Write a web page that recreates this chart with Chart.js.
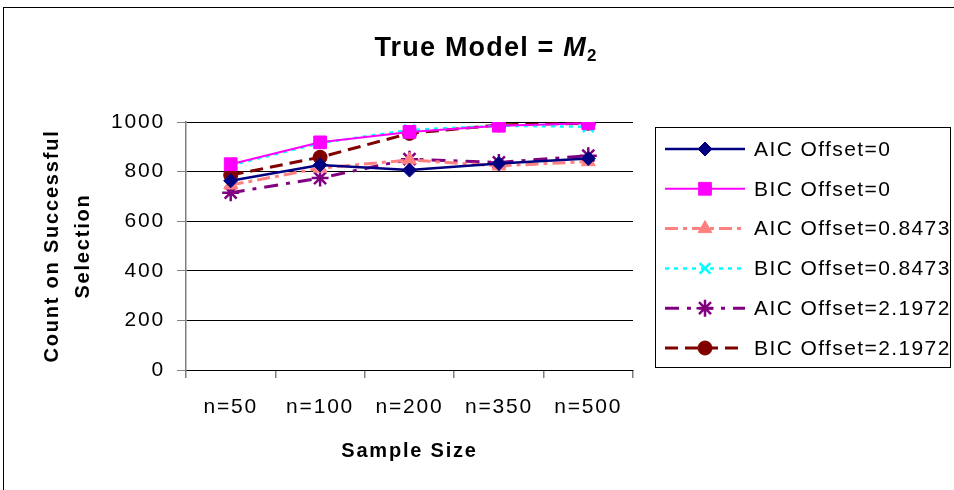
<!DOCTYPE html>
<html>
<head>
<meta charset="utf-8">
<script src="https://cdn.jsdelivr.net/npm/chart.js@4.4.1/dist/chart.umd.min.js"></script>
<style>
  html, body { margin: 0; padding: 0; background: #fff; }
  #wrap { width: 954px; height: 490px; position: relative; }
</style>
</head>
<body>
<div id="wrap"><canvas id="c" width="954" height="490"></canvas></div>
<script>
const categories = ['n=50', 'n=100', 'n=200', 'n=350', 'n=500'];
const seriesNames = ['AIC Offset=0', 'BIC Offset=0', 'AIC Offset=0.8473', 'BIC Offset=0.8473', 'AIC Offset=2.1972', 'BIC Offset=2.1972'];
const aic0 = [763, 827, 806, 833, 853];
const bic0 = [830, 918, 960, 985, 995];
const aic08473 = [746, 814, 847, 823, 840];
const bic08473 = [825, 915, 968, 985, 981];
const aic21972 = [715, 774, 850, 837, 864];
const bic21972 = [786, 858, 954, 988, 995];
const yTicks = [0, 200, 400, 600, 800, 1000];
const titleMain = 'True Model = ';
const titleItalic = 'M';
const titleSub = '2';
const yTitle = ['Count on Successful', 'Selection'];
const xTitle = 'Sample Size';

const FONT = '"Liberation Sans", Arial, sans-serif';

const styles = [
  { color: '#000080', dash: [], width: 2.5, point: 'rectRot', radius: 7 },
  { color: '#FF00FF', dash: [], width: 2, point: 'rect', radius: 9 },
  { color: '#FF8080', dash: [13, 5, 4, 5], width: 3, point: 'triangle', radius: 8 },
  { color: '#00FFFF', dash: [4, 5], width: 2.5, point: 'crossRot', radius: 7.5 },
  { color: '#800080', dash: [14, 8, 4, 8], width: 3, point: 'star', radius: 8.5 },
  { color: '#800000', dash: [13, 7], width: 3, point: 'circle', radius: 7 }
];
const values = [aic0, bic0, aic08473, bic08473, aic21972, bic21972];

const datasets = values.map((v, i) => {
  const s = styles[i];
  const lineish = (s.point === 'crossRot' || s.point === 'star');
  return {
    label: seriesNames[i],
    data: v,
    borderColor: s.color,
    backgroundColor: s.color,
    borderWidth: s.width,
    borderDash: s.dash,
    pointStyle: s.point,
    pointRadius: s.radius,
    pointHoverRadius: s.radius,
    pointBackgroundColor: s.color,
    pointBorderColor: s.color,
    pointBorderWidth: lineish ? 2.5 : 1,
    tension: 0,
    fill: false
  };
});

function setSpacing(ctx, px) {
  if ('letterSpacing' in ctx) ctx.letterSpacing = px + 'px';
}

const decor = {
  id: 'decor',
  beforeUpdate(chart) { setSpacing(chart.ctx, 1.8); },
  beforeDraw(chart) { setSpacing(chart.ctx, 1.8); },
  afterDraw(chart) {
    const ctx = chart.ctx;
    ctx.save();
    // outer frame
    ctx.strokeStyle = '#000';
    ctx.lineWidth = 1;
    ctx.strokeRect(3.5, 7.5, 1000, 1000);
    // title
    ctx.fillStyle = '#000';
    ctx.textBaseline = 'alphabetic';
    setSpacing(ctx, 1.2);
    const f1 = 'bold 27px ' + FONT;
    const f2 = 'italic bold 27px ' + FONT;
    const f3 = 'bold 17px ' + FONT;
    ctx.font = f1; const w1 = ctx.measureText(titleMain).width;
    ctx.font = f2; const w2 = ctx.measureText(titleItalic).width;
    ctx.font = f3; const w3 = ctx.measureText(titleSub).width;
    let x = 486 - (w1 + w2 + w3) / 2;
    const by = 56;
    ctx.font = f1; ctx.fillText(titleMain, x, by); x += w1;
    ctx.font = f2; ctx.fillText(titleItalic, x, by); x += w2;
    ctx.font = f3; ctx.fillText(titleSub, x, by + 5);
    // legend
    ctx.strokeStyle = '#000';
    ctx.lineWidth = 1;
    ctx.strokeRect(655.5, 127.5, 295, 240);
    setSpacing(ctx, 1.4);
    ctx.font = '21px ' + FONT;
    ctx.textBaseline = 'middle';
    chart.data.datasets.forEach((ds, i) => {
      const y = 149 + i * 39.8;
      ctx.save();
      ctx.strokeStyle = ds.borderColor;
      ctx.lineWidth = ds.borderWidth;
      ctx.setLineDash(ds.borderDash || []);
      ctx.beginPath();
      ctx.moveTo(665, y);
      ctx.lineTo(745, y);
      ctx.stroke();
      ctx.setLineDash([]);
      ctx.fillStyle = ds.pointBackgroundColor;
      ctx.strokeStyle = ds.pointBorderColor;
      ctx.lineWidth = ds.pointBorderWidth;
      Chart.helpers.drawPoint(ctx, { pointStyle: ds.pointStyle, radius: ds.pointRadius, rotation: 0, borderWidth: ds.pointBorderWidth }, 705, y);
      ctx.restore();
      ctx.fillStyle = '#000';
      ctx.fillText(ds.label, 754, y + 1);
    });
    ctx.restore();
  }
};

new Chart(document.getElementById('c'), {
  type: 'line',
  data: { labels: categories, datasets },
  plugins: [decor],
  options: {
    responsive: false,
    animation: false,
    devicePixelRatio: 1,
    layout: { padding: { left: 0, right: 321, top: 122, bottom: 0 } },
    plugins: { legend: { display: false }, title: { display: false }, tooltip: { enabled: false } },
    scales: {
      x: {
        offset: true,
        afterFit(s) { s.height = 120; },
        grid: { offset: true, drawOnChartArea: false, drawTicks: true, tickLength: 8, color: '#808080', lineWidth: 1.5 },
        border: { color: '#000', width: 1 },
        ticks: { color: '#000', font: { family: FONT, size: 21 }, padding: 17, maxRotation: 0, autoSkip: false },
        title: { display: true, text: xTitle, color: '#000', font: { family: FONT, size: 20, weight: 'bold', lineHeight: 1.2 }, padding: { top: 0, bottom: 27 } }
      },
      y: {
        min: 0, max: 1000,
        afterFit(s) { s.width = 186; },
        afterBuildTicks(s) { s.ticks = yTicks.map(v => ({ value: v })); },
        grid: { color: '#000', lineWidth: 1, tickLength: 9, tickColor: '#808080' },
        border: { color: '#808080', width: 1.5 },
        ticks: { color: '#000', font: { family: FONT, size: 21 }, padding: 12, callback: v => String(v) },
        title: { display: true, text: yTitle, color: '#000', font: { family: FONT, size: 20, weight: 'bold', lineHeight: 1.55 }, padding: { top: 37, bottom: 0 } }
      }
    }
  }
});
</script>
</body>
</html>
